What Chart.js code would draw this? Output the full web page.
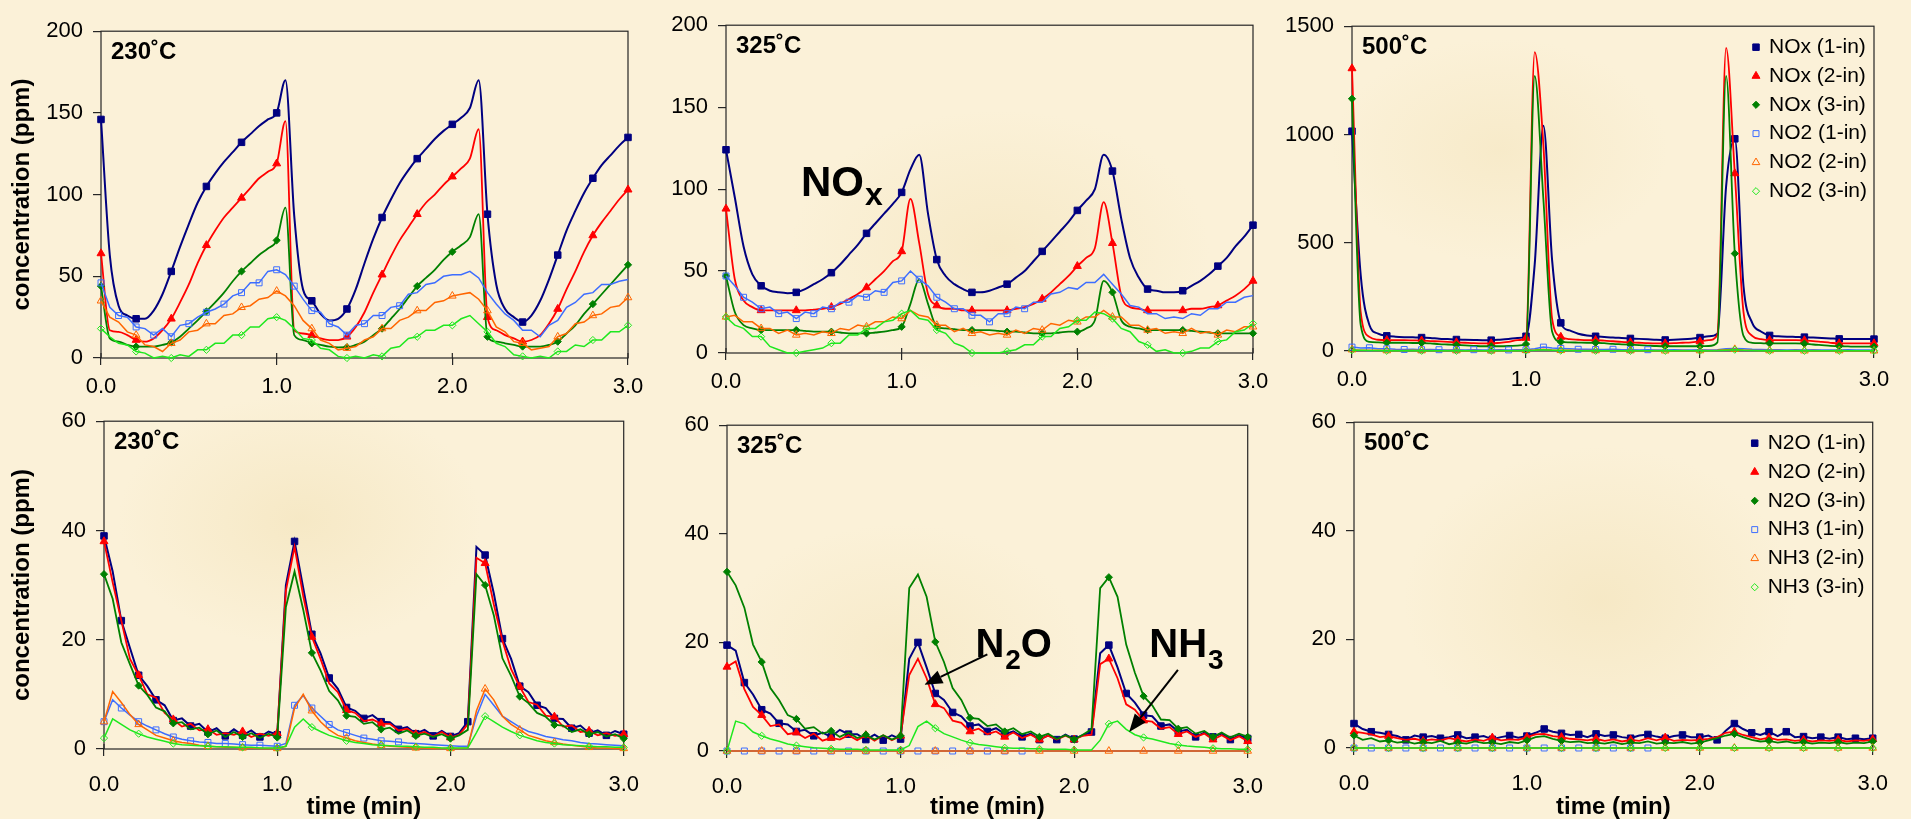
<!DOCTYPE html>
<html>
<head>
<meta charset="utf-8">
<title>NOx / N2O / NH3 vs time</title>
<script src="https://cdn.jsdelivr.net/npm/chart.js@4.4.0/dist/chart.umd.min.js"></script>
<style>
  html, body { margin: 0; padding: 0; }
  body {
    width: 1911px; height: 819px; overflow: hidden; position: relative;
    background-color: #fbf1d8;
    background-image:
      radial-gradient(ellipse 260px 180px at 300px 520px, rgba(240,222,175,0.45), rgba(240,222,175,0) 70%),
      radial-gradient(ellipse 300px 200px at 1000px 250px, rgba(240,222,175,0.40), rgba(240,222,175,0) 70%),
      radial-gradient(ellipse 280px 220px at 1600px 600px, rgba(240,222,175,0.45), rgba(240,222,175,0) 70%),
      radial-gradient(ellipse 240px 160px at 1500px 150px, rgba(240,222,175,0.35), rgba(240,222,175,0) 70%),
      radial-gradient(ellipse 260px 180px at 900px 650px, rgba(240,222,175,0.35), rgba(240,222,175,0) 70%);
  }
  canvas { position: absolute; }
</style>
</head>
<body>
<script>
/* =======================
   DATA
======================= */

// time axis (min), shared by every series
const t = [
  0.00,0.05,0.10,0.15,0.20,0.25,0.30,0.35,0.40,0.45,
  0.50,0.55,0.60,0.65,0.70,0.75,0.80,0.85,0.90,0.95,
  1.00,1.05,1.10,1.15,1.20,1.25,1.30,1.35,1.40,1.45,
  1.50,1.55,1.60,1.65,1.70,1.75,1.80,1.85,1.90,1.95,
  2.00,2.05,2.10,2.15,2.20,2.25,2.30,2.35,2.40,2.45,
  2.50,2.55,2.60,2.65,2.70,2.75,2.80,2.85,2.90,2.95,
  3.00
];

const topNames = ["NOx (1-in)", "NOx (2-in)", "NOx (3-in)", "NO2 (1-in)", "NO2 (2-in)", "NO2 (3-in)"];
const bottomNames = ["N2O (1-in)", "N2O (2-in)", "N2O (3-in)", "NH3 (1-in)", "NH3 (2-in)", "NH3 (3-in)"];

// ---- 230 C, NOx / NO2 ----
const p1Nox1 = [146,63,32,26,24,24,29,39,53,68, 82,95,105,113,120,126,132,137,142,146,
  150,170,87,42,35,27,23,24,30,42, 58,73,86,97,107,115,122,128,134,139,
  143,147,153,170,88,45,30,25,22,26, 35,48,63,78,90,101,110,118,124,130, 135];
const p1Nox2 = [64,17,16,14,11,10,12,17,24,34, 45,58,69,78,86,92,98,104,110,114,
  119,145,17,15,14,12,11,11,13,19, 28,40,51,62,72,80,88,95,100,106,
  111,116,122,140,25,17,14,12,10,11, 14,21,30,42,53,65,75,83,90,97, 103];
const p1Nox3 = [44,12,10,8,7,7,7,8,9.5,13, 18,23,28.5,34,40,47,53,58,63,67,
  72,92,14,11,9,8,7,6.5,6.6,8, 10,14,18,24,30,37,44,49,54,60,
  65,69,74,88,13,10,9,8,7,7, 7,8,10,15,20,27,33,39,45,51, 57];
const p1No2a = [46,31,26,25,19,18,14,18,13,20, 21,25,28,30,33,38,40,46,46,53,
  54,51,44,36,29,28,21,19,14,20, 21,26,26,31,32,39,40,45,46,50,
  51,51,53,49,40,33,27,23,17,17, 13,20,23,31,34,39,40,45,45,47, 48];
const p1No2b = [35,25,22,16,14,8,7,4,9,11, 16,17,21,21,26,27,31,32,36,37,
  41,38,32,23,18,11,9,5,6,7, 11,13,18,18,23,25,29,29,34,35,
  38,39,40,36,29,19,16,10,9,5, 6,7,13,15,21,22,26,27,31,32, 37];
const p1No2c = [18,13,9,8,4,3,0,1,0,2, 1,5,5,9,9,14,14,19,19,24,
  25,23,18,12,11,6,5,1,0,1, 0,2,1,6,7,12,13,17,17,20,
  20,24,26,21,16,9,7,2,1,0, 1,0,4,4,8,7,11,11,16,16, 20];

// ---- 325 C, NOx / NO2 ----
const p2Nox1 = [124,95,65,48,41,38,37,36.5,37,39, 42,45,49,54,60,66,73,79,85,91,
  98,112,121,85,57,47,42,39,37,37, 38,40,42,46,50,56,62,68,74,80,
  87,93,100,121,111,82,58,46,39,38, 37,37,38,41,44,48,53,58,65,71, 78];
const p2Nox2 = [88,45,32,28,26,26,26,26,26,26, 26.5,27,28,30,33,36,40,45,50,56,
  62,94,67,36,29,27,27,26,26,26, 26,26,26,27,28,30,33,37,42,47,
  53,58,64,92,67,35,28,27,26,26, 26,26,26,27,27,28,29,32,35,39, 44];
const p2Nox3 = [47,25,17,15,14,14,14,14,14,13.5, 13,13,13,12.5,12,12,12,12.5,13,14,
  16,30,45,30,16,15,14.5,14,14,14, 14,13.5,13,13,12.5,12,12,12,12.5,13,
  13,15,20,44,37,20,16,15,14,14, 14,14,14,13.5,13,12.5,12,12,12,12, 12];
const p2No2a = [47,41,34,31,27,28,24,25,21,25, 24,28,27,31,31,35,34,38,37,43,
  44,50,45,41,34,31,27,27,23,23, 19,24,24,28,27,31,31,36,37,40,
  39,43,43,48,42,36,29,28,24,24, 21,22,21,24,23,27,27,31,31,34, 35];
const p2No2b = [22,23,19,19,15,15,12,14,11,12, 11,13,12,15,14,17,16,19,19,22,
  21,26,23,22,17,17,13,15,12,13, 11,12,11,14,12,15,14,18,17,20,
  19,22,22,26,22,22,17,17,14,15, 12,13,12,15,12,13,11,14,13,16, 16];
const p2No2c = [22,17,15,10,10,4,2,0,0,1, 2,3,6,6,11,11,15,15,19,20,
  24,26,21,20,14,12,6,4,0,0, 0,0,1,2,5,5,10,10,15,16,
  20,20,25,24,21,15,13,7,5,1, 2,0,0,1,3,3,7,8,13,14, 18];

// ---- 500 C, NOx / NO2 ----
const p3Nox1 = [1015,350,120,80,70,66,64,63,62,60, 57,55,53,52,51,50,50,52,55,60,
  68,400,1040,420,130,95,80,72,68,65, 62,60,58,56,54,52,51,52,54,57,
  62,68,80,760,980,300,130,90,72,68, 66,65,64,62,60,58,56,55,55,55, 55];
const p3Nox2 = [1305,180,65,52,50,50,50,49,48,46, 44,42,40,38,36,35,35,38,42,50,
  60,1380,950,150,65,55,52,50,50,48, 45,42,40,38,36,35,35,36,38,40,
  44,50,75,1400,820,180,70,55,50,50, 50,50,49,46,42,38,35,35,35,35, 35];
const p3Nox3 = [1165,120,42,40,38,38,38,37,37,35, 32,30,28,26,24,22,22,22,23,25,
  32,1270,700,90,42,40,39,38,38,36, 33,31,29,27,25,23,22,22,22,22,
  22,23,40,1270,450,70,38,36,35,35, 35,35,34,30,27,24,22,21,20,20, 20];
const p3No2a = [18,14,15,10,10,8,7,8,6,7, 6,5,6,5,6,5,5,6,5,6,
  6,10,18,14,12,10,8,8,7,7, 8,6,6,5,6,5,5,6,5,5,
  6,5,6,10,12,10,8,7,6,6, 5,6,5,6,5,5,5,6,5,5, 5];
const p3No2b = [6,4,3,3,2,2,2,3,2,2, 1,2,2,1,2,1,1,2,1,2,
  3,5,8,5,3,3,2,2,2,1, 2,1,2,1,1,2,1,1,2,1,
  2,2,3,6,8,5,3,2,2,2, 1,2,1,2,1,1,2,1,1,1, 1];
const p3No2c = [4,3,2,2,1,1,1,2,1,1, 1,1,1,1,1,1,1,1,1,1,
  2,3,6,4,2,2,1,1,1,1, 1,1,1,1,1,1,1,1,1,1,
  1,1,2,4,6,3,2,1,1,1, 1,1,1,1,1,1,1,1,1,1, 1];

// ---- 230 C, N2O / NH3 ----
const p4N2oa = [39,32.5,23.5,18.5,13.5,11.5,9,8,5.2,5.6, 4.2,4.6,3.1,3.8,2.4,3.6,2.5,3.4,2.2,3.2,
  2.6,30,38,29.5,21,17.5,13,11,7.6,7, 5.6,6.2,5,4.9,3.6,4,2.8,3.5,2.4,3.3,
  2.3,2.9,5,37,35.5,28.5,20.2,16.5,11.5,10.4, 8,7.5,5.6,5.5,3.8,4.3,2.9,3.4,2.5,3.3, 2.7];
const p4N2ob = [38,30.5,23.5,16.5,13.5,10,9.4,6.6,5.4,4.1, 4.6,3.4,3.6,2.6,2.9,2.6,3.2,2.2,2.8,2.4,
  2.9,29,37,28,20.5,16.5,12,10.4,7.1,6.6, 5.1,5.4,4.6,4.6,3.4,3.7,2.7,3.1,2.3,3.1,
  2.1,2.6,4.5,35,34,26.5,19.8,14.6,11.4,8.6, 8.1,6.1,5.9,4.1,4.3,3.1,3.3,2.5,2.9,2.4, 2.7];
const p4N2oc = [32,27.5,19.5,15.5,11.6,9.9,7.6,6.9,4.7,4.9, 3.6,3.9,2.7,3.4,2.2,3.1,2.2,2.9,2,2.8,
  2.1,26,32.5,25.5,17.6,14.4,10.6,8.9,6.1,5.9, 4.6,4.9,3.6,3.9,2.8,3.4,2.4,2.8,2.2,2.7,
  1.9,2.5,3.5,32,30,24.5,16.6,13.4,9.6,8.4, 6.6,5.9,4.4,4.3,3.1,3.6,2.7,3.1,2.3,2.7, 1.9];
const p4Nh3a = [5,9,7.5,6.2,5,4.2,3.5,2.8,2.2,1.8, 1.5,1.3,1.2,1,1,0.9,0.8,0.7,0.7,0.6,
  0.5,1,8,9.8,7.5,6,4.5,3.5,3,2.5, 2,1.8,1.5,1.4,1.3,1.1,1,0.9,0.8,0.7,
  0.6,0.5,0.5,6,10,8,6,5,4,3.2, 2.8,2.3,2,1.7,1.5,1.2,1,0.9,0.8,0.7, 0.6];
const p4Nh3b = [5,10.5,8.5,6.3,4.5,3.5,2.5,2,1.5,1.2, 1,0.7,0.5,0.4,0.3,0.3,0.2,0.2,0.1,0.1,
  0.1,0.5,7.5,10,7,5,3.5,2.5,2,1.5, 1.2,0.9,0.7,0.5,0.4,0.3,0.2,0.2,0.1,0.1,
  0.1,0.1,0.2,7,11,9,6,4.5,3.5,2.5, 2,1.5,1.2,0.9,0.7,0.5,0.3,0.2,0.2,0.1, 0.1];
const p4Nh3c = [2,5.5,4.5,3.5,2.8,2.2,1.8,1.4,1,0.8, 0.7,0.6,0.5,0.4,0.4,0.3,0.3,0.3,0.2,0.2,
  0.2,0.5,4,5.5,4,3.2,2.5,2,1.5,1.2, 1,0.8,0.7,0.6,0.5,0.5,0.4,0.3,0.3,0.2,
  0.2,0.2,0.2,3,6,5,4,3.2,2.5,2, 1.5,1.2,1,0.8,0.7,0.6,0.5,0.4,0.4,0.3, 0.3];

// ---- 325 C, N2O / NH3 ----
const p5N2oa = [19.5,18.5,12.6,10.4,7.6,6.9,5.1,4.9,3.6,3.9, 2.8,3.4,2.6,3.9,3.1,3.1,2.1,3,2,2.9,
  2.2,17,20,15.4,10.6,9.4,7.1,6.4,4.6,4.9, 3.6,4.2,3.1,3.6,2.6,3.2,2.1,2.9,2.1,3,
  2.2,2.9,3.5,18,19.5,15.4,10.6,8.9,6.6,6.4, 4.6,4.9,3.6,3.9,2.6,3.4,2.6,3.2,2.1,2.9, 2.3];
const p5N2ob = [15.5,16.5,11.4,8.1,6.6,4.6,4.9,3.1,3.4,2.4, 3.2,1.9,2.4,2.1,2.9,2,2.9,1.9,2.9,2,
  2.8,14,17,13.4,8.6,7.9,5.6,5.2,3.6,4.1, 3.1,3.6,2.6,3.4,2.4,3,2.1,2.8,2.1,2.8,
  2.1,2.8,3,16,17,13.4,8.6,7.6,5.6,5.4, 4.1,4.4,3.1,3.6,2.6,3.2,2.1,2.9,2,2.7, 1.8];
const p5N2oc = [33,30.5,26.4,19.6,16.4,11.6,9.4,6.6,5.9,4.1, 4.4,3.2,3.7,2.6,3.4,2.4,3,2.1,2.9,2.1,
  2.8,30,32.5,28.4,20.1,16.4,11.6,9.4,6.1,5.9, 4.6,4.9,3.6,4.2,3.1,3.6,2.6,3.2,2.2,2.9,
  2.1,3,4,30,32,28.4,19.6,14.4,10.1,8.4, 5.8,5.7,4.1,4.4,3.2,3.7,2.6,3.4,2.5,3.2, 2.6];
const p5Nh3c = [0,5.5,5,3.5,2.8,2.2,1.8,1.3,1,0.8, 0.6,0.5,0.4,0.3,0.3,0.3,0.2,0.2,0.2,0.2,
  0.2,1,4.5,5.5,4.2,3.2,2.6,2,1.5,1.2, 1,0.8,0.6,0.5,0.5,0.4,0.4,0.3,0.3,0.3,
  0.2,0.2,0.2,2,5,5.5,4,3,2.5,2.2, 1.8,1.4,1.1,0.9,0.8,0.7,0.5,0.4,0.4,0.3, 0.3];

// ---- 500 C, N2O / NH3 ----
const p6N2oa = [4.5,3.5,3,2.8,2.5,2.2,1.5,2.3,2,2.2, 1.8,2,2.4,1.8,2,2.2,1.6,2,2.3,1.9,
  2.2,2.8,3.5,3,2.7,2.4,2.5,2,2.6,2.2, 2.4,2,1.8,2.3,2.5,2.1,1.8,2.2,2.4,2,
  2,2.3,1.5,3.2,4.5,3.5,2.8,2.4,3,2.2, 3,2,2.1,1.8,2,1.7,2,1.6,1.8,1.6, 1.8];
const p6N2ob = [3,2.8,2.5,2,2.2,1.8,1.5,1.7,1.3,1.6, 1.4,1.8,1.5,1.2,1.6,1.3,1.9,1.4,1.6,1.5,
  2,2.5,2.6,2.2,2,1.7,1.6,1.4,1.7,1.3, 1.6,1.2,1.5,1.3,1.8,1.4,1.9,1.3,1.5,1.4,
  1.5,1.7,2,2.8,3,2.4,2,1.6,1.9,1.5, 1.6,1.3,1.5,1.2,1.4,1.3,1.5,1.2,1.4,1.3, 1.6];
const p6N2oc = [2.3,1.5,1.8,1.2,1.4,1,1.2,0.8,1.1,0.9, 1.3,0.7,1,0.8,1.2,0.9,1,0.7,1.1,0.9,
  1.4,2,2.2,1.7,1.3,1.1,1.2,0.9,1,0.8, 1.1,0.7,1,0.9,1.2,0.8,1,0.9,1.1,0.8,
  1,1.4,1.8,2.3,2.6,2,1.5,1.2,1.3,1, 1.2,0.9,1.1,0.8,1,0.9,1.1,0.8,1,0.9, 1.2];

// NH3 that stays at zero
const zeroLine = [0,0,0,0,0,0,0,0,0,0, 0,0,0,0,0,0,0,0,0,0,
  0,0,0,0,0,0,0,0,0,0, 0,0,0,0,0,0,0,0,0,0,
  0,0,0,0,0,0,0,0,0,0, 0,0,0,0,0,0,0,0,0,0, 0];

/* =======================
   STYLE
======================= */

const FONT = '"Liberation Sans", Arial, sans-serif';
Chart.defaults.font.family = FONT;
Chart.defaults.color = "#000";

const seriesStyle = [
  { color: "#000080", shape: "rect",     r: 4.6, fill: true,  width: 2 },
  { color: "#ff0000", shape: "triangle", r: 4.6, fill: true,  width: 1.8 },
  { color: "#008000", shape: "rectRot",  r: 3.6, fill: true,  width: 1.8 },
  { color: "#3d6dff", shape: "rect",     r: 4.2, fill: false, width: 1.5 },
  { color: "#ff6600", shape: "triangle", r: 4.4, fill: false, width: 1.5 },
  { color: "#1ee81e", shape: "rectRot",  r: 3.6, fill: false, width: 1.5 }
];

// marker every n samples, and last time a marker is shown
const topMarks = [4, 4, 4, 2, 4, 4];
const bottomMarks = [2, 4, 4, 2, 4, 4];
const markLimit = [3, 3, 3, 1.7, 3, 3];

// plot boxes [left, top, right, bottom] in page pixels
const panels = [
  { box: [101, 24, 628, 358],   ymax: 200,  step: 50,  label: "230˚C", names: topNames, marks: topMarks,
    series: [p1Nox1, p1Nox2, p1Nox3, p1No2a, p1No2b, p1No2c], smooth: true, yTitle: true },
  { box: [726, 18, 1253, 353],  ymax: 200,  step: 50,  label: "325˚C", names: topNames, marks: topMarks,
    series: [p2Nox1, p2Nox2, p2Nox3, p2No2a, p2No2b, p2No2c], smooth: true, notes: noxNote },
  { box: [1352, 19, 1874, 351], ymax: 1500, step: 500, label: "500˚C", names: topNames, marks: topMarks,
    series: [p3Nox1, p3Nox2, p3Nox3, p3No2a, p3No2b, p3No2c], smooth: true, legend: true },
  { box: [104, 414, 627, 749],  ymax: 60,   step: 20,  label: "230˚C", names: bottomNames, marks: bottomMarks,
    series: [p4N2oa, p4N2ob, p4N2oc, p4Nh3a, p4Nh3b, p4Nh3c], yTitle: true, xTitle: true },
  { box: [727, 418, 1251, 751], ymax: 60,   step: 20,  label: "325˚C", names: bottomNames, marks: bottomMarks,
    series: [p5N2oa, p5N2ob, p5N2oc, zeroLine, zeroLine, p5Nh3c], xTitle: true, notes: n2oNote },
  { box: [1354, 415, 1876, 748], ymax: 60,  step: 20,  label: "500˚C", names: bottomNames, marks: bottomMarks,
    series: [p6N2oa, p6N2ob, p6N2oc, zeroLine, zeroLine, zeroLine], xTitle: true, legend: true }
];

/* =======================
   DRAW HELPERS
======================= */

function drawMarker(ctx, s, x, y) {
  const r = s.r;
  ctx.beginPath();
  if (s.shape === "rect") {
    const h = r * Math.SQRT1_2;
    ctx.rect(x - h, y - h, 2 * h, 2 * h);
  } else if (s.shape === "triangle") {
    for (let k = 0; k < 3; k++) {
      const a = k * 2 * Math.PI / 3;
      const px = x + Math.sin(a) * r, py = y - Math.cos(a) * r;
      if (k) ctx.lineTo(px, py); else ctx.moveTo(px, py);
    }
    ctx.closePath();
  } else {
    ctx.moveTo(x - r, y); ctx.lineTo(x, y - r); ctx.lineTo(x + r, y); ctx.lineTo(x, y + r);
    ctx.closePath();
  }
  ctx.lineWidth = 1;
  ctx.strokeStyle = s.color;
  if (s.fill) { ctx.fillStyle = s.color; ctx.fill(); }
  ctx.stroke();
}

function arrow(ctx, x1, y1, x2, y2) {
  const a = Math.atan2(y2 - y1, x2 - x1), len = 18, half = 7;
  const bx = x2 - Math.cos(a) * len, by = y2 - Math.sin(a) * len;
  ctx.strokeStyle = "#000"; ctx.fillStyle = "#000"; ctx.lineWidth = 2;
  ctx.beginPath(); ctx.moveTo(x1, y1); ctx.lineTo(bx, by); ctx.stroke();
  ctx.beginPath();
  ctx.moveTo(x2, y2);
  ctx.lineTo(bx + Math.sin(a) * half, by - Math.cos(a) * half);
  ctx.lineTo(bx - Math.sin(a) * half, by + Math.cos(a) * half);
  ctx.closePath(); ctx.fill();
}

// big label with subscript: main text, sub text, trailing text
function subLabel(ctx, x, y, ySub, main, sub, tail, size, subSize) {
  ctx.font = `bold ${size}px ${FONT}`;
  ctx.fillText(main, x, y);
  let w = ctx.measureText(main).width;
  ctx.font = `bold ${subSize}px ${FONT}`;
  ctx.fillText(sub, x + w + 1, ySub);
  w += ctx.measureText(sub).width + 1;
  if (tail) {
    ctx.font = `bold ${size}px ${FONT}`;
    ctx.fillText(tail, x + w, y);
  }
}

function noxNote(chart, ctx) {
  const sx = v => chart.scales.x.getPixelForValue(v);
  const sy = v => chart.scales.y.getPixelForValue(v);
  subLabel(ctx, sx(0.427), sy(96), sy(90), "NO", "x", "", 42, 32);
}

function n2oNote(chart, ctx) {
  const sx = v => chart.scales.x.getPixelForValue(v);
  const sy = v => chart.scales.y.getPixelForValue(v);
  subLabel(ctx, sx(1.431), sy(17.3), sy(15.1), "N", "2", "O", 40, 28);
  subLabel(ctx, sx(2.433), sy(17.3), sy(15.1), "NH", "3", "", 40, 28);
  arrow(ctx, sx(1.5), sy(17.8), sx(1.137), sy(12.2));
  arrow(ctx, sx(2.598), sy(14.95), sx(2.317), sy(3.48));
}

function decorPlugin(p) {
  return {
    id: "decor",
    beforeDatasetsDraw(chart) {
      const a = chart.chartArea, ctx = chart.ctx;
      ctx.save();
      ctx.strokeStyle = "#262626";
      ctx.lineWidth = 1.2;
      ctx.strokeRect(a.left, a.top, a.right - a.left, a.bottom - a.top);
      // x ticks also poke a little into the plot
      ctx.beginPath();
      chart.scales.x.ticks.forEach(tk => {
        const x = chart.scales.x.getPixelForValue(tk.value);
        ctx.moveTo(x, a.bottom); ctx.lineTo(x, a.bottom - 5);
      });
      ctx.stroke();
      ctx.restore();
    },
    afterDraw(chart) {
      const a = chart.chartArea, ctx = chart.ctx;
      ctx.save();
      ctx.fillStyle = "#000";
      ctx.textBaseline = "alphabetic";
      ctx.font = `bold 24px ${FONT}`;
      ctx.fillText(p.label, a.left + 10, a.top + 28);

      if (p.legend) {
        ctx.font = `21px ${FONT}`;
        ctx.textBaseline = "middle";
        p.names.forEach((n, k) => {
          const y = a.top + 21 + k * 28.8;
          drawMarker(ctx, seriesStyle[k], a.right - 118, y);
          ctx.fillStyle = "#000";
          ctx.fillText(n, a.right - 105, y);
        });
        ctx.textBaseline = "alphabetic";
      }
      if (p.notes) {
        ctx.fillStyle = "#000";
        p.notes(chart, ctx);
      }
      ctx.restore();
    }
  };
}

/* =======================
   CHARTS
======================= */

function makePanel(p, row) {
  const [L, T, R, B] = p.box;
  const yw = p.yTitle ? L : 90;
  const padTop = 16, padRight = 28;
  const xh = row === 0 ? 50 : 822 - B;
  const W = yw + (R - L) + padRight;
  const H = padTop + (B - T) + xh;

  const cv = document.createElement("canvas");
  cv.width = W; cv.height = H;
  cv.style.left = (L - yw) + "px";
  cv.style.top = (T - padTop) + "px";
  cv.style.width = W + "px";
  cv.style.height = H + "px";
  document.body.appendChild(cv);

  const datasets = p.series.map((arr, k) => {
    const s = seriesStyle[k];
    const every = p.marks[k];
    return {
      label: p.names[k],
      data: t.map((x, i) => ({ x, y: arr[i] })),
      borderColor: s.color,
      borderWidth: s.width,
      pointStyle: s.shape,
      pointBorderColor: s.color,
      pointBackgroundColor: s.fill ? s.color : "rgba(0,0,0,0)",
      pointBorderWidth: 1,
      pointRadius: c => (c.dataIndex % every === 0 && t[c.dataIndex] <= markLimit[k] + 1e-9) ? s.r : 0,
      cubicInterpolationMode: (p.smooth && k < 3) ? "monotone" : "default",
      tension: 0,
      clip: false,
      order: 5 - k
    };
  });

  const tickGrid = len => ({
    display: true, drawOnChartArea: false, drawTicks: true,
    tickLength: len, color: "#262626", lineWidth: 1.2
  });

  new Chart(cv, {
    type: "line",
    data: { datasets },
    options: {
      responsive: false,
      animation: false,
      events: [],
      layout: { padding: { top: padTop, right: padRight, left: 0, bottom: 0 } },
      plugins: { legend: { display: false }, tooltip: { enabled: false } },
      scales: {
        x: {
          type: "linear", min: 0, max: 3,
          ticks: {
            stepSize: 1, padding: row === 0 ? 9 : 16,
            font: { size: 22 }, color: "#000",
            callback: v => Number(v).toFixed(1)
          },
          grid: tickGrid(7),
          border: { display: false },
          title: {
            display: !!p.xTitle, text: "time (min)", color: "#000",
            font: { size: 24, weight: "bold" }, padding: { top: 0, bottom: 0 }
          },
          afterFit: s => { s.height = xh; }
        },
        y: {
          min: 0, max: p.ymax,
          ticks: {
            stepSize: p.step, padding: 10, font: { size: 22 }, color: "#000",
            callback: v => String(v)
          },
          grid: tickGrid(8),
          border: { display: false },
          title: {
            display: !!p.yTitle, text: "concentration (ppm)", color: "#000",
            font: { size: 24, weight: "bold" }, padding: { top: 8, bottom: 0 }
          },
          afterFit: s => { s.width = yw; }
        }
      }
    },
    plugins: [decorPlugin(p)]
  });
}

panels.forEach((p, i) => makePanel(p, i < 3 ? 0 : 1));
</script>
</body>
</html>
